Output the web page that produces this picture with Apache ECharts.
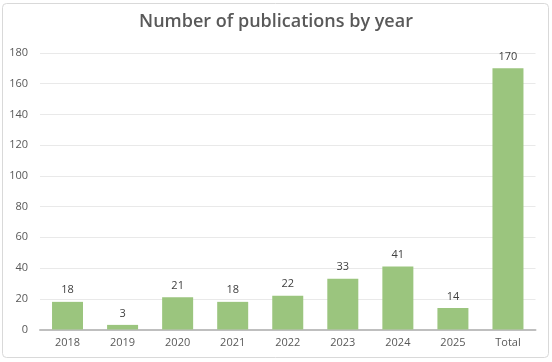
<!DOCTYPE html>
<html><head><meta charset="utf-8">
<script src="https://cdn.jsdelivr.net/npm/echarts@6/dist/echarts.min.js"></script>
<style>html,body{margin:0;padding:0;background:#fff}#c{width:552px;height:362px}</style>
</head><body><div id="c"></div>
<script>
const categories = ['2018','2019','2020','2021','2022','2023','2024','2025','Total'];
const publications = [18,3,21,18,22,33,41,14,170];
const yTicks = {min:0, max:180, interval:20};

const chart = echarts.init(document.getElementById('c'));
chart.setOption({
  animation:false,
  backgroundColor:'#fff',
  title:{text:'Number of publications by year',left:'center',top:8,
    textStyle:{fontFamily:'Open Sans',fontSize:18,fontWeight:600,color:'#595959'}},
  grid:{left:40,right:16.5,top:53,bottom:32.5},
  xAxis:{type:'category',data:categories,
    axisLine:{lineStyle:{color:'#bfbfbf',width:2}},axisTick:{show:false},
    axisLabel:{color:'#595959',fontFamily:'Open Sans',fontSize:11,margin:8}},
  yAxis:{type:'value',min:yTicks.min,max:yTicks.max,interval:yTicks.interval,
    axisLine:{show:false},axisTick:{show:false},
    axisLabel:{color:'#595959',fontFamily:'Open Sans',fontSize:11,margin:12,align:'right'},
    splitLine:{lineStyle:{color:'#e9e9e9',width:1}}},
  series:[{type:'bar',data:publications,barWidth:31,
    itemStyle:{color:'#9bc57e'},
    label:{show:true,position:'top',distance:6,color:'#404040',fontFamily:'Open Sans',fontSize:11}}],
  graphic:[{type:'rect',shape:{x:2.5,y:3.5,width:546,height:354,r:4},
    style:{fill:'none',stroke:'#d9d9d9',lineWidth:1},silent:true}]
});
</script></body></html>
